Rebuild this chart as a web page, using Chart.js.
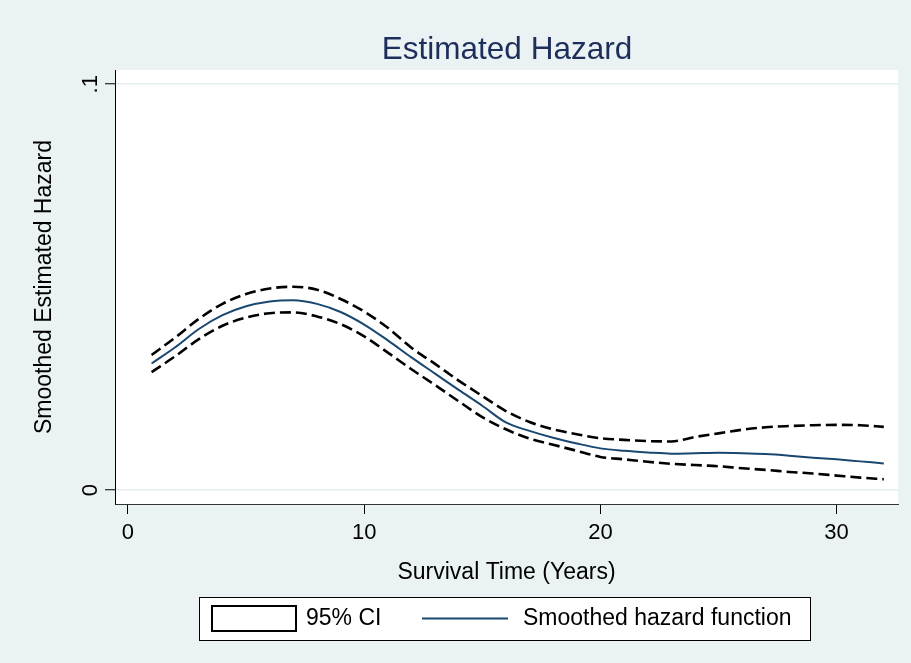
<!DOCTYPE html>
<html>
<head>
<meta charset="utf-8">
<script src="https://cdn.jsdelivr.net/npm/chart.js@4.4.1/dist/chart.umd.min.js"></script>
<style>
  html, body { margin: 0; padding: 0; background: #EAF2F3; }
  #wrap { width: 911px; height: 663px; }
</style>
</head>
<body>
<div id="wrap"><canvas id="c" width="911" height="663"></canvas></div>
<script>
// ---- data ----
const timeYears = [1,2,3,4,5,6,7,8,9,10,11,12,13,14,15,16,17,18,19,20,21,22,23,24,25,26,27,28,29,30,31,32];
const hazard = [0.0312,0.0352,0.0397,0.0431,0.0453,0.0465,0.0468,0.0459,0.0439,0.0408,0.0369,0.0327,0.0287,0.0247,0.0208,0.0167,0.0146,0.0129,0.0115,0.0103,0.0097,0.0093,0.0090,0.0091,0.0092,0.0091,0.0089,0.0085,0.0080,0.0076,0.0071,0.0066];
const ciUpper = [0.0333,0.0376,0.0422,0.0459,0.0483,0.0497,0.0501,0.0494,0.0471,0.0440,0.0400,0.0351,0.0311,0.0270,0.0232,0.0195,0.0168,0.0150,0.0138,0.0128,0.0124,0.0121,0.0120,0.0131,0.0140,0.0149,0.0155,0.0158,0.0160,0.0161,0.0160,0.0156];
const ciLower = [0.0291,0.0330,0.0372,0.0405,0.0425,0.0436,0.0438,0.0428,0.0409,0.0379,0.0339,0.0298,0.0259,0.0219,0.0180,0.0150,0.0127,0.0112,0.0097,0.0082,0.0076,0.0070,0.0065,0.0062,0.0059,0.0054,0.0050,0.0045,0.0041,0.0036,0.0031,0.0027];
const xTickValues = [0, 10, 20, 30];
const yTickValues = [0, 0.1];
const yTickLabels = ['0', '.1'];
const titleText = 'Estimated Hazard';
const xTitle = 'Survival Time (Years)';
const yTitle = 'Smoothed Estimated Hazard';
const legendLabels = ['95% CI', 'Smoothed hazard function'];

const FONT = '"Liberation Sans", Arial, Helvetica, sans-serif';
const BG = '#EAF2F3';
const NAVY = '#1A476F';

const pts = (arr) => timeYears.map((t, i) => ({ x: t, y: arr[i] }));

const decor = {
  id: 'decor',
  beforeDraw(chart) {
    const { ctx, chartArea: a } = chart;
    ctx.save();
    ctx.fillStyle = BG;
    ctx.fillRect(0, 0, chart.width, chart.height);
    ctx.fillStyle = '#FFFFFF';
    ctx.fillRect(a.left, a.top, a.right - a.left, a.bottom - a.top);
    ctx.restore();
  },
  afterDraw(chart) {
    const { ctx, chartArea: a } = chart;
    ctx.save();
    // title
    ctx.fillStyle = '#1E2E5A';
    ctx.font = '31.5px ' + FONT;
    ctx.textAlign = 'center';
    ctx.textBaseline = 'alphabetic';
    ctx.fillText(titleText, (a.left + a.right) / 2 + 0.5, 58.5);
    // legend
    const lx = 199.5, ly = 597.5, lw = 611, lh = 43;
    ctx.fillStyle = '#FFFFFF';
    ctx.fillRect(lx, ly, lw, lh);
    ctx.strokeStyle = '#000000';
    ctx.lineWidth = 1;
    ctx.strokeRect(lx, ly, lw, lh);
    ctx.lineWidth = 2;
    ctx.strokeRect(212, 606, 84, 25);
    ctx.fillStyle = '#000000';
    ctx.font = '23px ' + FONT;
    ctx.textAlign = 'left';
    ctx.textBaseline = 'middle';
    ctx.fillText(legendLabels[0], 306, 619);
    ctx.strokeStyle = NAVY;
    ctx.lineWidth = 2;
    ctx.beginPath();
    ctx.moveTo(422, 618.5);
    ctx.lineTo(508, 618.5);
    ctx.stroke();
    ctx.fillText(legendLabels[1], 523, 619);
    ctx.restore();
  }
};

new Chart(document.getElementById('c'), {
  type: 'line',
  data: {
    datasets: [
      { label: '95% CI upper', data: pts(ciUpper), borderColor: '#000000', borderWidth: 2.6, borderDash: [11, 5], pointRadius: 0, fill: false, cubicInterpolationMode: 'monotone' },
      { label: '95% CI lower', data: pts(ciLower), borderColor: '#000000', borderWidth: 2.6, borderDash: [11, 5], pointRadius: 0, fill: false, cubicInterpolationMode: 'monotone' },
      { label: 'Smoothed hazard function', data: pts(hazard), borderColor: NAVY, borderWidth: 2, pointRadius: 0, fill: false, cubicInterpolationMode: 'monotone' }
    ]
  },
  options: {
    responsive: false,
    animation: false,
    events: [],
    layout: { padding: { top: 70, left: 10, right: 13, bottom: 69 } },
    plugins: { legend: { display: false }, tooltip: { enabled: false }, title: { display: false } },
    scales: {
      x: {
        type: 'linear',
        min: -0.55,
        max: 32.6,
        afterBuildTicks: (s) => { s.ticks = xTickValues.map(v => ({ value: v })); },
        afterFit: (s) => { s.height = 90; },
        grid: { display: true, drawOnChartArea: false, drawTicks: true, tickLength: 10, tickColor: '#000000', tickWidth: 1 },
        border: { display: true, color: '#333333', width: 1 },
        ticks: { color: '#000000', font: { family: FONT, size: 22 }, padding: 6, maxRotation: 0, minRotation: 0 },
        title: { display: true, text: xTitle, color: '#000000', font: { family: FONT, size: 23 }, padding: { top: 0, bottom: 8 } }
      },
      y: {
        type: 'linear',
        min: -0.0034,
        max: 0.1035,
        afterBuildTicks: (s) => { s.ticks = yTickValues.map(v => ({ value: v })); },
        afterFit: (s) => { s.width = 105; },
        grid: { display: true, drawOnChartArea: true, color: '#E6EEF0', lineWidth: 1.5, drawTicks: true, tickLength: 10, tickColor: '#000000', tickWidth: 1 },
        border: { display: true, color: '#000000', width: 1 },
        ticks: {
          color: '#000000', font: { family: FONT, size: 22 }, padding: 5,
          minRotation: 90, maxRotation: 90, crossAlign: 'center',
          callback: (v) => { const i = yTickValues.indexOf(v); return i >= 0 ? yTickLabels[i] : ''; }
        },
        title: { display: true, text: yTitle, color: '#000000', font: { family: FONT, size: 23 }, padding: { top: 21, bottom: 0 } }
      }
    }
  },
  plugins: [decor]
});
</script>
</body>
</html>
